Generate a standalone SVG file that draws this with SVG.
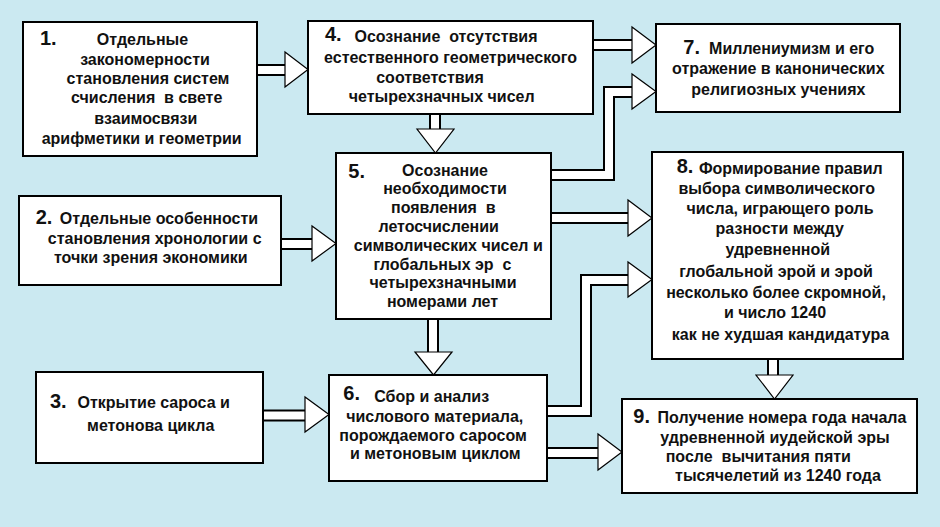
<svg xmlns="http://www.w3.org/2000/svg" width="940" height="527" viewBox="0 0 940 527">
<defs>
<style>
.bg{fill:#CBE9F1}
.box{fill:#fff;stroke:#000;stroke-width:2}
.so{fill:none;stroke:#000;stroke-width:12;stroke-linejoin:miter}
.si{fill:none;stroke:#fff;stroke-width:8;stroke-linejoin:miter}
.hd{fill:#fff;stroke:#000;stroke-width:1.2;stroke-linejoin:miter}
text{font-family:"Liberation Sans",Arial,sans-serif;font-weight:bold;font-size:16px;fill:#111;text-anchor:middle;white-space:pre}
text.n{font-size:20px;text-anchor:start}
</style>
</defs>
<rect class="bg" x="0" y="0" width="940" height="527"/>
<g id="connectors">
<path class="so" d="M250 70H287"/><path class="si" d="M250 70H287"/>
<polygon class="hd" points="285,52 285,87 308,69.5"/>
<path class="so" d="M590 45H634"/><path class="si" d="M590 45H634"/>
<polygon class="hd" points="632,27 632,63 656,45"/>
<path class="so" d="M545 175H609V92H634"/><path class="si" d="M545 175H609V92H634"/>
<polygon class="hd" points="632,74 632,109 656,91.5"/>
<path class="so" d="M435 110V131"/><path class="si" d="M435 110V131"/>
<polygon class="hd" points="417,129 454,129 435.5,153"/>
<path class="so" d="M545 218H630"/><path class="si" d="M545 218H630"/>
<polygon class="hd" points="628,200 628,236 652,218"/>
<path class="so" d="M540 411H586V280H630"/><path class="si" d="M540 411H586V280H630"/>
<polygon class="hd" points="628,262 628,297 652,279.5"/>
<path class="so" d="M275 244H314"/><path class="si" d="M275 244H314"/>
<polygon class="hd" points="312,226 312,261 336,243.5"/>
<path class="so" d="M433 315V354"/><path class="si" d="M433 315V354"/>
<polygon class="hd" points="415,352 452,352 433.5,375"/>
<path class="so" d="M258 415.5H307"/><path class="si" d="M258 415.5H307"/>
<polygon class="hd" points="305,397 305,432 329,414.5"/>
<path class="so" d="M540 453H600"/><path class="si" d="M540 453H600"/>
<polygon class="hd" points="598,434 598,470 622,452"/>
<path class="so" d="M773 355V377"/><path class="si" d="M773 355V377"/>
<polygon class="hd" points="756,375 793,375 774.5,399"/>
</g>
<g id="node1">
<rect class="box" x="23" y="22" width="234" height="134"/>
<text class="n" x="40" y="45">1.</text>
<text x="142.5" y="45">Отдельные</text>
<text x="145" y="65">закономерности</text>
<text x="148" y="84">становления систем</text>
<text x="146.7" y="103">счисления  в свете</text>
<text x="145.8" y="124">взаимосвязи</text>
<text x="141.7" y="144">арифметики и геометрии</text>
</g>
<g id="node2">
<rect class="box" x="19" y="196" width="262" height="89"/>
<text class="n" x="35.7" y="224">2.</text>
<text x="159" y="224.3">Отдельные особенности</text>
<text x="154.7" y="244">становления хронологии с</text>
<text x="150.8" y="263.3">точки зрения экономики</text>
</g>
<g id="node3">
<rect class="box" x="36" y="372" width="227" height="91"/>
<text class="n" x="50" y="408.3">3.</text>
<text x="153.7" y="408.3">Открытие сароса и</text>
<text x="150.7" y="430.7">метонова цикла</text>
</g>
<g id="node4">
<rect class="box" x="308" y="21" width="285" height="93"/>
<text class="n" x="325" y="41">4.</text>
<text x="446" y="41.7">Осознание  отсутствия</text>
<text x="450.5" y="63.3">естественного геометрического</text>
<text x="430" y="83.3">соответствия</text>
<text x="441.7" y="101.7">четырехзначных чисел</text>
</g>
<g id="node5">
<rect class="box" x="336" y="153" width="215" height="166"/>
<text class="n" x="348.3" y="178.3">5.</text>
<text x="445" y="176">Осознание</text>
<text x="445" y="194.3">необходимости</text>
<text x="443.3" y="212.7">появления  в</text>
<text x="438.7" y="231.7">летосчислении</text>
<text x="448.3" y="251">символических чисел и</text>
<text x="442.5" y="270">глобальных эр  с</text>
<text x="443" y="288.3">четырехзначными</text>
<text x="442.5" y="307.3">номерами лет</text>
</g>
<g id="node6">
<rect class="box" x="329" y="375" width="218" height="106"/>
<text class="n" x="343.3" y="400">6.</text>
<text x="431.7" y="401.7">Сбор и анализ</text>
<text x="434.7" y="421.7">числового материала,</text>
<text x="433" y="440.7">порождаемого саросом</text>
<text x="435.3" y="459">и метоновым циклом</text>
</g>
<g id="node7">
<rect class="box" x="656" y="24" width="244" height="88"/>
<text class="n" x="683.3" y="54">7.</text>
<text x="791.7" y="54">Миллениумизм и его</text>
<text x="778.3" y="74">отражение в канонических</text>
<text x="778.3" y="95">религиозных учениях</text>
</g>
<g id="node8">
<rect class="box" x="652" y="152" width="251" height="207"/>
<text class="n" x="676.7" y="173">8.</text>
<text x="790.8" y="174">Формирование правил</text>
<text x="776.7" y="194">выбора символического</text>
<text x="780" y="214">числа, играющего роль</text>
<text x="779.7" y="234">разности между</text>
<text x="777.8" y="255">удревненной</text>
<text x="776" y="277.3">глобальной эрой и эрой</text>
<text x="776" y="297.7">несколько более скромной,</text>
<text x="775" y="317.7">и число 1240</text>
<text x="780.5" y="340">как не худшая кандидатура</text>
</g>
<g id="node9">
<rect class="box" x="622" y="399" width="295" height="94"/>
<text class="n" x="633.3" y="422.7">9.</text>
<text x="782" y="423.3">Получение номера года начала</text>
<text x="775" y="442.7">удревненной иудейской эры</text>
<text x="758.3" y="461.7">после  вычитания пяти</text>
<text x="778" y="480.7">тысячелетий из 1240 года</text>
</g>
</svg>
